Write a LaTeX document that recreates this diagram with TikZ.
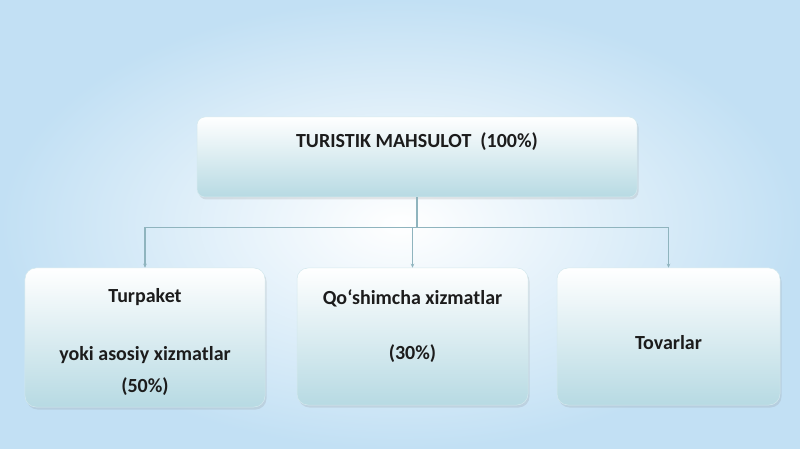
\documentclass[tikz,border=0pt]{standalone}
\usepackage{fontspec}
\setmainfont{Carlito}
\usetikzlibrary{arrows.meta,shadows}
\definecolor{fonko}{HTML}{C2E0F4}
\definecolor{qutipast}{HTML}{B7DAE3}
\definecolor{chiziq}{HTML}{8FB4BE}
\definecolor{matn}{HTML}{1C1C1C}

\begin{document}
\begin{tikzpicture}[x=1bp,y=-1bp,
    quti/.style={rounded corners=11bp, draw=qutipast!60!white, line width=0.5bp,
      top color=white, bottom color=qutipast,
      drop shadow={opacity=0.18, shadow xshift=1.5bp, shadow yshift=-2.5bp}},
    yozuv/.style={font=\bfseries\fontsize{20bp}{24bp}\selectfont, text=matn,
      align=center, inner sep=0pt, anchor=base},
    bogla/.style={draw=chiziq, line width=1.2bp, -{Stealth[length=4bp,width=3.5bp]}}]

  % fon
  \shade[inner color=white, outer color=fonko] (0,0) rectangle (800,449);
  \useasboundingbox (0,0) rectangle (800,449);

  % qutilar
  \node[quti, rounded corners=8bp, minimum width=440bp, minimum height=80bp] (mahsulot) at (417,157) {};
  \node[quti, minimum width=240bp, minimum height=139bp] (turpaket) at (145,337.5) {};
  \node[quti, minimum width=231bp, minimum height=137bp] (qoshimcha) at (412.5,336.5) {};
  \node[quti, minimum width=223bp, minimum height=137bp] (tovarlar) at (668.5,336.5) {};

  % bog'lanishlar
  \foreach \q in {turpaket,qoshimcha,tovarlar}
  {
    \draw[bogla] (mahsulot.south) -- ++(0,30) -| (\q.north);
  }

  % matnlar (base = oxirgi qator)
  \node[yozuv] (mahsulot-t) at (417,148) {TURISTIK MAHSULOT\ \ (100\%)};
  \node[yozuv] (turpaket-t) at (145,392) {Turpaket\\[33bp] yoki asosiy xizmatlar\\[8bp] (50\%)};
  \node[yozuv] (qoshimcha-t) at (412.5,360) {Qo‘shimcha xizmatlar\\[31bp] (30\%)};
  \node[yozuv] (tovarlar-t) at (668.5,350) {Tovarlar};

\end{tikzpicture}
\end{document}
